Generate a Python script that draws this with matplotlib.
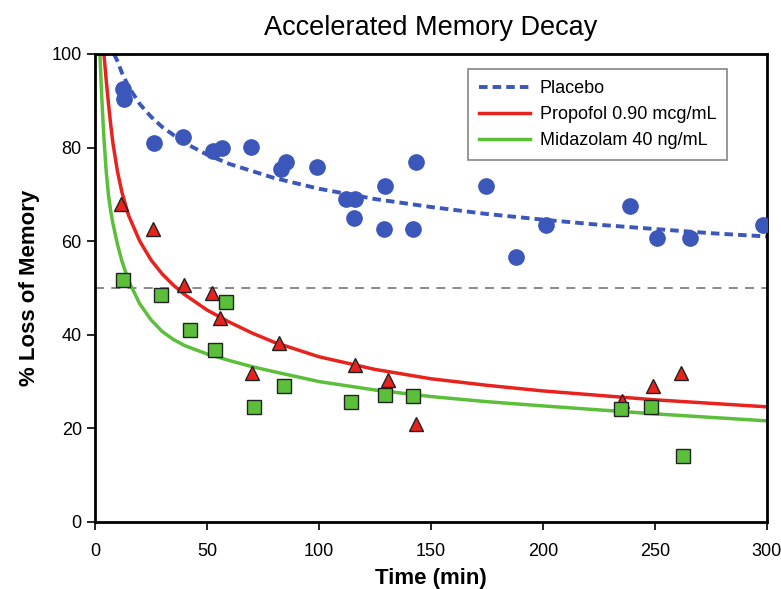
import numpy as np
import matplotlib
matplotlib.use("Agg")
import matplotlib.pyplot as plt

plt.rcParams['font.family'] = ['Liberation Sans', 'DejaVu Sans']

# observed points
placebo_t = [12.5, 12.9, 26.3, 39.5, 52.9, 56.5, 69.6, 83.0, 85.5, 99.1, 112.0, 115.5, 116.3,
             129.3, 129.0, 142.0, 143.3, 174.6, 188.0, 201.3, 238.8, 250.9, 265.6, 298.2]
placebo_y = [92.5, 90.4, 80.9, 82.3, 79.2, 80.0, 80.1, 75.4, 76.9, 75.8, 69.0, 64.9, 69.0,
             71.7, 62.7, 62.7, 76.9, 71.7, 56.7, 63.4, 67.5, 60.7, 60.7, 63.4]

propofol_t = [11.6, 25.9, 39.7, 52.2, 55.8, 70.1, 82.1, 116.0, 130.8, 143.3, 235.3, 249.0, 261.6]
propofol_y = [67.9, 62.7, 50.7, 49.0, 43.5, 31.9, 38.3, 33.6, 30.4, 21.0, 25.9, 29.1, 31.9]

midazolam_t = [12.5, 29.5, 42.4, 53.6, 58.5, 71.0, 84.4, 114.5, 129.5, 142.0, 234.8, 248.2, 262.5]
midazolam_y = [51.6, 48.6, 41.1, 36.8, 47.1, 24.6, 29.1, 25.7, 27.2, 27.0, 24.2, 24.6, 14.1]

# fitted curves
placebo_fit_t = [8.5, 10, 12, 15, 20, 25, 30, 40, 50, 60, 80, 100, 125, 150, 175, 200, 225, 250, 275, 300]
placebo_fit_y = [100, 98.5, 96.0, 93.0, 89.3, 86.6, 84.4, 81.0, 78.5, 76.5, 73.5, 71.2, 69.0, 67.3,
                 65.8, 64.6, 63.5, 62.6, 61.7, 61.0]

propofol_fit_t = [4, 5, 6, 7, 8, 10, 12, 15, 20, 25, 30, 35, 40, 50, 60, 70, 80, 100, 125, 150, 175,
                  200, 250, 300]
propofol_fit_y = [100, 94.5, 89.5, 85, 81, 75, 70.5, 65.5, 60, 56, 53, 50.6, 48.6, 45.3, 42.7, 40.4,
                  38.4, 35.3, 32.6, 30.6, 29.2, 28, 26.1, 24.6]

midazolam_fit_t = [2.2, 3, 4, 5, 6, 7, 8, 10, 12, 15, 20, 25, 30, 35, 40, 50, 60, 70, 80, 100, 125, 150,
                   175, 200, 250, 300]
midazolam_fit_y = [100, 91, 82, 75, 70, 66.5, 63.8, 59.4, 55.8, 51.5, 46.6, 43.2, 40.7, 39.0, 37.7, 35.9,
                   34.5, 33.2, 32.1, 30.0, 28.2, 26.8, 25.7, 24.8, 23.1, 21.6]

blue = '#3b57b9'
red = '#e8231e'
green = '#5cbf3a'

fig = plt.figure(figsize=(7.81, 5.89), dpi=100)
ax = fig.add_axes([0.1216, 0.1138, 0.8604, 0.7946])

ax.axhline(50, color='#808080', lw=1.3, ls=(0, (5, 4)), zorder=1)

ax.plot(placebo_fit_t, placebo_fit_y, color=blue, lw=2.8, ls=(0, (2.2, 1.3)), label='Placebo', zorder=2)
ax.plot(propofol_fit_t, propofol_fit_y, color=red, lw=2.5, label='Propofol 0.90 mcg/mL', zorder=2)
ax.plot(midazolam_fit_t, midazolam_fit_y, color=green, lw=2.5, label='Midazolam 40 ng/mL', zorder=2)

ax.plot(placebo_t, placebo_y, 'o', color=blue, ms=11, mec=blue, zorder=3)
ax.plot(propofol_t, propofol_y, '^', color=red, ms=10, mec='#222222', mew=1.0, zorder=3)
ax.plot(midazolam_t, midazolam_y, 's', color=green, ms=9.5, mec='#222222', mew=1.0, zorder=3)

ax.set_xlim(0, 300)
ax.set_ylim(0, 100)
ax.set_xticks(range(0, 301, 50))
ax.set_yticks(range(0, 101, 20))
ax.tick_params(direction='out', length=6, width=1.2, labelsize=13)
ax.tick_params(axis='x', pad=9)
for s in ax.spines.values():
    s.set_linewidth(2.0)

ax.set_xlabel('Time (min)', fontsize=16, fontweight='bold', labelpad=6)
ax.set_ylabel('% Loss of Memory', fontsize=16, fontweight='bold', labelpad=8)
ax.set_title('Accelerated Memory Decay', fontsize=19.5, pad=14)

leg = ax.legend(loc='upper right', bbox_to_anchor=(0.9405, 0.967), fontsize=13, frameon=True,
                fancybox=False, handlelength=2.8, handletextpad=0.55, borderpad=0.6,
                labelspacing=0.5, borderaxespad=0)
leg.get_frame().set_edgecolor('#666666')
leg.get_frame().set_linewidth(1.2)

fig.savefig('out.png', dpi=100)
